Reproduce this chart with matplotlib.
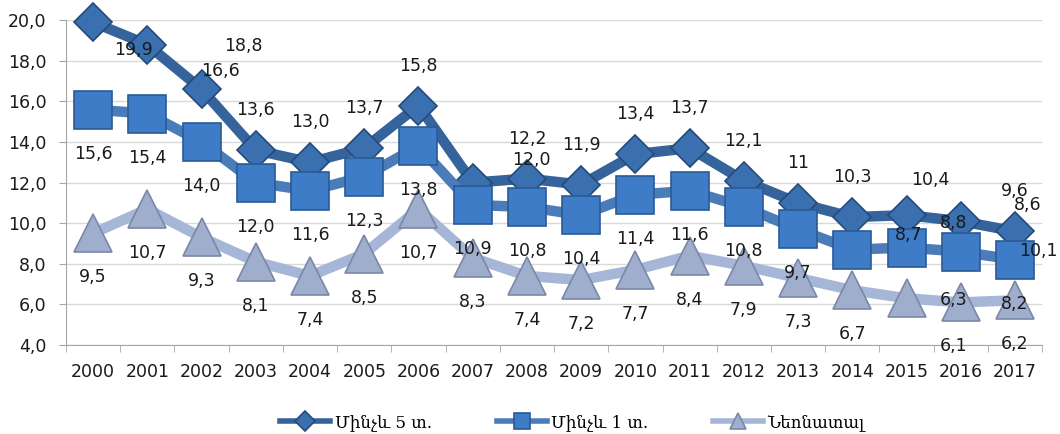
import matplotlib
matplotlib.use("Agg")
import matplotlib.pyplot as plt
from matplotlib.ticker import FuncFormatter

# data
years = [str(y) for y in range(2000, 2018)]
under5 = [19.9, 18.8, 16.6, 13.6, 13.0, 13.7, 15.8, 12.0, 12.2, 11.9,
          13.4, 13.7, 12.1, 11.0, 10.3, 10.4, 10.1, 9.6]
under1 = [15.6, 15.4, 14.0, 12.0, 11.6, 12.3, 13.8, 10.9, 10.8, 10.4,
          11.4, 11.6, 10.8, 9.7, 8.7, 8.8, 8.6, 8.2]
neonatal = [9.5, 10.7, 9.3, 8.1, 7.4, 8.5, 10.7, 8.3, 7.4, 7.2,
            7.7, 8.4, 7.9, 7.3, 6.7, 6.3, 6.1, 6.2]
names = ["Մինչև 5 տ.", "Մինչև 1 տ.", "Նեոնատալ"]


def fmt(v):
    return f"{v:.1f}".replace(".", ",")


labels_u5 = [fmt(v) for v in under5]
labels_u5[13] = "11"
labels_u1 = [fmt(v) for v in under1]
labels_nn = [fmt(v) for v in neonatal]

# label offsets in pixels (default + the odd ones that sit elsewhere in the original)
off_u5 = {0: (40, -28), 1: (96, -1), 2: (19, 18), 7: (59, 23), 15: (24, 35), 16: (78, -30)}
off_u1 = {14: (56, 15), 15: (47, 25), 16: (67, 47)}
off_nn = {15: (47, -2), 16: (-7, -44)}

plt.rcParams['font.family'] = ['DejaVu Sans']

fig = plt.figure(figsize=(10.6, 4.34), dpi=100)
ax = fig.add_axes([0.0623, 0.2051, 0.9208, 0.7482])

x = list(range(len(years)))

styles = [
    dict(color='#35649C', marker='D', ms=19, mfc='#3A70B0', mec='#254A7A'),
    dict(color='#4A7CBA', marker='s', ms=27, mfc='#3F7CC8', mec='#2B5A95'),
    dict(color='#A5B6D6', marker='^', ms=27, mfc='#9FAECC', mec='#7A88A6'),
]
series = [under5, under1, neonatal]
handles = []
for vals, st, name, z in zip(series, styles, names, [3, 4, 5]):
    h, = ax.plot(x, vals, color=st['color'], lw=7.5, marker=st['marker'],
                 ms=st['ms'], mfc=st['mfc'], mec=st['mec'], mew=1.2,
                 solid_joinstyle='round', zorder=z, clip_on=False, label=name)
    handles.append(h)

for vals, labs, offs, default in [(under5, labels_u5, off_u5, (0, 40)),
                                   (under1, labels_u1, off_u1, (0, -44)),
                                   (neonatal, labels_nn, off_nn, (0, -44))]:
    for i, (v, t) in enumerate(zip(vals, labs)):
        dx, dy = offs.get(i, default)
        ax.annotate(t, (i, v), xytext=(dx, dy), textcoords='offset pixels',
                    ha='center', va='center', fontsize=12.5, color='#1a1a1a',
                    zorder=10, annotation_clip=False)

ax.set_xlim(-0.5, 17.5)
ax.set_ylim(4, 20)
ax.set_yticks(range(4, 21, 2))
ax.yaxis.set_major_formatter(FuncFormatter(lambda v, p: fmt(v)))
ax.set_xticks(x)
ax.set_xticklabels(years)
ax.set_xticks([i - 0.5 for i in range(19)], minor=True)
ax.tick_params(axis='x', which='major', length=0, pad=13, labelsize=12.5, colors='#1a1a1a')
ax.tick_params(axis='x', which='minor', length=5, color='#A6A6A6')
ax.tick_params(axis='y', length=5, color='#A6A6A6', labelsize=12.5, labelcolor='#1a1a1a', pad=9)

ax.grid(axis='y', color='#D9D9D9', lw=1)
ax.set_axisbelow(True)
for s in ['top', 'right']:
    ax.spines[s].set_visible(False)
for s in ['left', 'bottom']:
    ax.spines[s].set_color('#A6A6A6')

leg = fig.legend(handles=handles, loc='center', bbox_to_anchor=(0.54, 0.027),
                 ncol=3, frameon=False, handlelength=3.0,
                 columnspacing=3.9, handletextpad=0.25, numpoints=1,
                 prop={'family': ['DejaVu Serif', 'DejaVu Sans'], 'size': 12})
for line, m in zip(leg.get_lines(), [10, 11, 12]):
    line.set_linewidth(4)
    line.set_markersize(m)

fig.savefig("out.png", dpi=100)
